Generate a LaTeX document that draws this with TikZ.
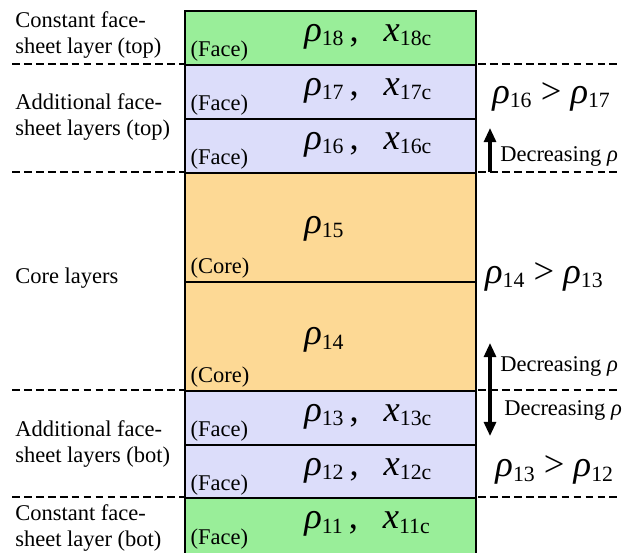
\documentclass[tikz,border=0pt]{standalone}
\usepackage{fontspec}
\setmainfont{Liberation Serif}
\usetikzlibrary{arrows.meta, positioning}
\definecolor{facegreen}{HTML}{99EE99}
\definecolor{facelav}{HTML}{DCDDFA}
\definecolor{coreorange}{HTML}{FDD995}
\newcommand{\sbs}[1]{\raisebox{-3.2pt}{\fontsize{15.5}{17}\selectfont #1}}
\newcommand{\rh}[1]{\textit{ρ}\sbs{#1}}
\newcommand{\xc}[1]{\textit{x}\sbs{#1c}}
\newcommand{\pair}[1]{\rh{#1}\,,\hspace{0.62cm}\xc{#1}}

\begin{document}
\begin{tikzpicture}[
  lyr/.style={rectangle, draw=black, line width=1.3pt, minimum width=7.275cm,
              inner sep=0pt, anchor=north west},
  cface/.style={lyr, fill=facegreen},
  aface/.style={lyr, fill=facelav, minimum height=1.35cm},
  core/.style={lyr, fill=coreorange, minimum height=2.725cm},
  val/.style={font=\fontsize{26}{28}\selectfont, inner sep=0pt, anchor=west},
  tag/.style={font=\fontsize{16}{17}\selectfont, inner sep=0pt},
  side/.style={font=\fontsize{16}{18.5}\selectfont, align=left, anchor=west, inner sep=0pt},
  sep/.style={line width=1.7pt, dash pattern=on 5.5pt off 3pt},
  arr/.style={line width=2.2pt, -{Triangle[length=10pt, width=8.5pt]}},
  darr/.style={line width=2.2pt, {Triangle[length=10pt, width=8.5pt]}-{Triangle[length=10pt, width=8.5pt]}},
]
\useasboundingbox (0,0) rectangle (15.6,-13.8);

%% --- separators between layer groups ---
\draw[sep] (0.3,-1.6) -- (15.5,-1.6);
\draw[sep] (0.3,-4.3) -- (15.5,-4.3);
\draw[sep] (0.3,-9.75) -- (15.5,-9.75);
\draw[sep] (0.3,-12.425) -- (15.5,-12.425);

%% --- layer stack ---
\node[cface, minimum height=1.35cm] (l18) at (4.6,-0.25) {};
\node[aface] (l17) at (4.6,-1.6) {};
\node[aface] (l16) at (4.6,-2.95) {};
\node[core] (l15) at (4.6,-4.3) {};
\node[core] (l14) at (4.6,-7.025) {};
\node[aface] (l13) at (4.6,-9.75) {};
\node[aface] (l12) at (4.6,-11.1) {};
\node[cface, minimum height=1.45cm] (l11) at (4.6,-12.425) {};

%% --- values
\node[val] (v18) at (7.6,-0.92) {\pair{18}};
\node[val] (v17) at (7.6,-2.27) {\pair{17}};
\node[val] (v16) at (7.6,-3.62) {\pair{16}};
\node[val] (v15) at (7.6,-5.72) {\rh{15}};
\node[val] (v14) at (7.6,-8.5) {\rh{14}};
\node[val] (v13) at (7.6,-10.42) {\pair{13}};
\node[val] (v12) at (7.6,-11.77) {\pair{12}};
\node[val] (v11) at (7.6,-13.1) {\pair{11}};

%% --- material tags
\foreach \l in {18,17,16,13,12}
  \node[tag, above right=0.1cm and 0.16cm of l\l.south west] (t\l) {(Face)};
\node[tag, above right=0.18cm and 0.16cm of l11.south west] (t11) {(Face)};
\node[tag, above right=0.1cm and 0.16cm of l15.south west] (t15) {(Core)};
\node[tag, above right=0.1cm and 0.16cm of l14.south west] (t14) {(Core)};

%% --- group labels (left)
\node[side] (g1) at (0.375,-0.88) {Constant face-\\sheet layer (top)};
\node[side] (g2) at (0.375,-2.93) {Additional face-\\sheet layers (top)};
\node[side] (g3) at (0.375,-6.95) {Core layers};
\node[side] (g4) at (0.375,-11.1) {Additional face-\\sheet layers (bot)};
\node[side] (g5) at (0.375,-13.2) {Constant face-\\sheet layer (bot)};

%% --- comparisons (right)
\node[val] (c1) at (12.3,-2.42) {\rh{16} > \rh{17}};
\node[val] (c2) at (12.12,-6.92) {\rh{14} > \rh{13}};
\node[val] (c3) at (12.38,-11.75) {\rh{13} > \rh{12}};

\coordinate (a1s) at (12.25,-4.3);
\coordinate (a1e) at (12.25,-3.2);
\coordinate (a2s) at (12.25,-8.575);
\coordinate (a2e) at (12.25,-10.9);
\draw[arr] (a1s) -- (a1e);
\draw[darr] (a2s) -- (a2e);

\node[side] (d1) at (12.5,-3.92) {Decreasing \textit{ρ}};
\node[side] (d2) at (12.5,-9.17) {Decreasing \textit{ρ}};
\node[side] (d3) at (12.6,-10.25) {Decreasing \textit{ρ}};
\end{tikzpicture}
\end{document}
